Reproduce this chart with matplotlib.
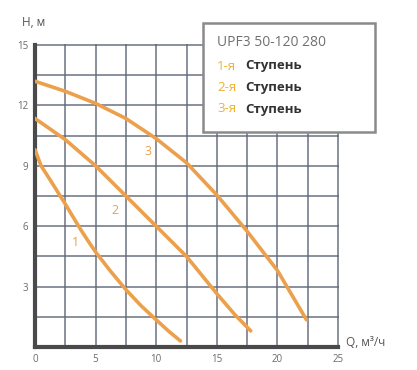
import numpy as np
import matplotlib
matplotlib.use('Agg')
import matplotlib.pyplot as plt

# curve data (Q in m3/h, H in m)
q1 = [0, 0.5, 1.25, 2.5, 3.75, 4.4, 5, 6.25, 7.5, 8.75, 10, 11, 12]
h1 = [9.8, 9.0, 8.3, 7.1, 5.85, 5.25, 4.72, 3.75, 2.85, 2.05, 1.35, 0.8, 0.3]
q2 = [0, 2.5, 5, 7.5, 10, 12.5, 15, 16.5, 17.8]
h2 = [11.35, 10.3, 9.0, 7.5, 6.0, 4.5, 2.65, 1.6, 0.8]
q3 = [0, 2.5, 5, 7.5, 10, 12.5, 15, 17.5, 20, 22.4]
h3 = [13.2, 12.7, 12.1, 11.35, 10.35, 9.15, 7.55, 5.75, 3.8, 1.35]

curves = [(q1, h1), (q2, h2), (q3, h3)]
curve_labels = ['1', '2', '3']
label_pos = [(3.3, 5.2), (6.6, 6.8), (9.3, 9.7)]

x_ticks = [0, 5, 10, 15, 20, 25]
y_ticks = [3, 6, 9, 12, 15]
legend_title = 'UPF3 50-120 280'
legend_rows = ['1-я', '2-я', '3-я']

orange = '#eda04c'
grid_col = '#5d6677'
text_col = '#6a6a6a'

plt.rcParams['font.family'] = ['Open Sans', 'DejaVu Sans']

fig = plt.figure(figsize=(4.17, 3.70), dpi=100)
ax = fig.add_axes([35 / 417, 1 - 347 / 370, 303 / 417, 302 / 370])
ax.set_xlim(0, 25)
ax.set_ylim(0, 15)

# grid every 2.5 x 1.5, including the outer edges
for gx in np.arange(2.5, 25.01, 2.5):
    ax.axvline(gx, color=grid_col, lw=1.4, alpha=0.72, zorder=1, clip_on=False)
for gy in np.arange(1.5, 15.01, 1.5):
    ax.axhline(gy, color=grid_col, lw=1.4, alpha=0.72, zorder=1, clip_on=False)

for (q, h) in curves:
    ax.plot(q, h, color=orange, lw=2.6, solid_capstyle='round', zorder=3)

for lab, (lx, ly) in zip(curve_labels, label_pos):
    ax.text(lx, ly, lab, color=orange, fontsize=9, ha='center', va='center', zorder=4)

ax.spines['top'].set_visible(False)
ax.spines['right'].set_visible(False)
ax.spines['left'].set_color('#4a4a4a')
ax.spines['bottom'].set_color('#4a4a4a')
ax.spines['left'].set_linewidth(3)
ax.spines['bottom'].set_linewidth(3)

ax.set_xticks(x_ticks)
ax.set_yticks(y_ticks)
ax.tick_params(length=0, labelsize=7, colors=text_col, pad=5)

fig.text(22 / 417, 1 - 22 / 370, 'H, м', fontsize=8.5, color='#555555', ha='left', va='center')
fig.text(346 / 417, 1 - 343 / 370, 'Q, м³/ч', fontsize=8.5, color='#555555', ha='left', va='center')

# legend box
box = plt.Rectangle((203 / 417, 1 - 132 / 370), 172 / 417, 109 / 370, transform=fig.transFigure,
                    facecolor='white', edgecolor='#8a8a8a', lw=1.8, zorder=5)
fig.patches.append(box)
fig.text(217 / 417, 1 - 43 / 370, legend_title, fontsize=10, color='#707070', ha='left', va='center', zorder=6)
for i, row in enumerate(legend_rows):
    yy = 1 - (66 + i * 21.5) / 370
    fig.text(217 / 417, yy, row, fontsize=9.5, color='#f0b030', ha='left', va='center', zorder=6)
    fig.text(245 / 417, yy, 'Ступень', fontsize=9.5, color='#333333', fontweight='bold',
             ha='left', va='center', zorder=6)

fig.savefig('out.png', dpi=100)
